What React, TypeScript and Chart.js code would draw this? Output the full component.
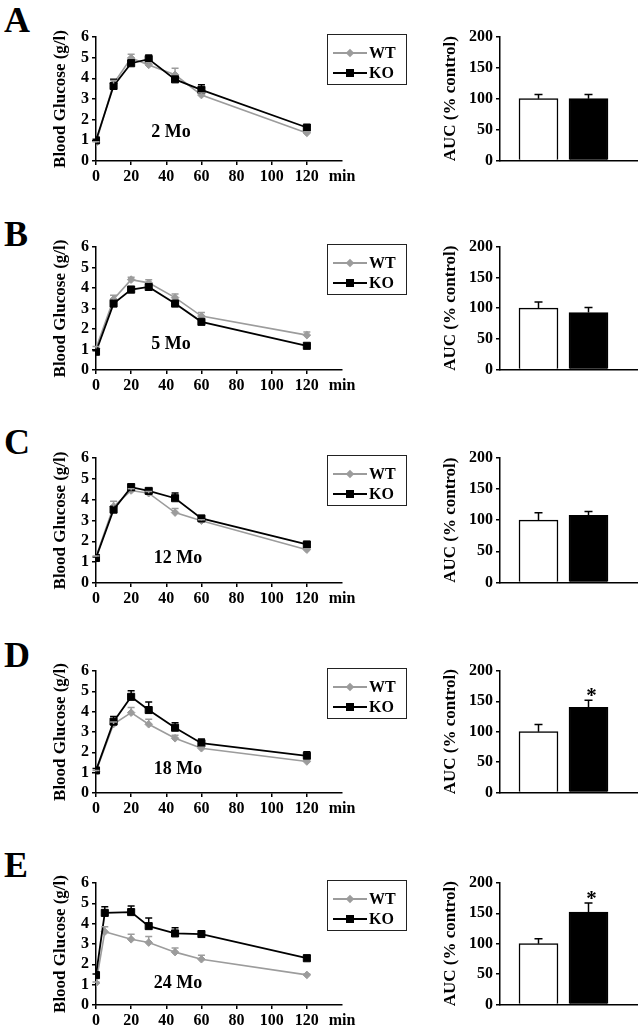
import React, { useEffect, useRef } from 'react';
import { Chart, registerables } from 'chart.js';

Chart.register(...registerables);

// ---------------- data ----------------
const TIMES_MIN = [0, 10, 20, 30, 45, 60, 120];
const TIMES_MIN_24MO = [0, 5, 20, 30, 45, 60, 120];
const X_TICKS = [0, 20, 40, 60, 80, 100, 120, 140];
const X_UNIT = 'min';
const X_UNIT_AT = 140;
const Y_TICKS_GLUCOSE = [0, 1, 2, 3, 4, 5, 6];
const Y_TICKS_AUC = [0, 50, 100, 150, 200];
const GROUPS = ['WT', 'KO'];
const PANEL_LETTERS = ['A', 'B', 'C', 'D', 'E'];
const AGES = ['2 Mo', '5 Mo', '12 Mo', '18 Mo', '24 Mo'];

const WT_2MO = [0.88, 3.75, 4.98, 4.65, 4.17, 3.19, 1.36];
const WT_2MO_SEM = [0.05, 0.15, 0.18, 0.1, 0.32, 0.1, 0.05];
const KO_2MO = [1.0, 3.63, 4.73, 4.93, 3.95, 3.44, 1.62];
const KO_2MO_SEM = [0.05, 0.32, 0.15, 0.2, 0.1, 0.25, 0.05];

const WT_5MO = [1.05, 3.45, 4.41, 4.25, 3.53, 2.63, 1.7];
const WT_5MO_SEM = [0.1, 0.2, 0.12, 0.15, 0.18, 0.18, 0.15];
const KO_5MO = [0.89, 3.24, 3.92, 4.05, 3.24, 2.35, 1.18];
const KO_5MO_SEM = [0.05, 0.1, 0.15, 0.12, 0.08, 0.08, 0.05];

const WT_12MO = [1.25, 3.67, 4.44, 4.31, 3.38, 2.99, 1.6];
const WT_12MO_SEM = [0.05, 0.25, 0.08, 0.08, 0.2, 0.05, 0.05];
const KO_12MO = [1.2, 3.52, 4.6, 4.42, 4.07, 3.1, 1.85];
const KO_12MO_SEM = [0.05, 0.1, 0.15, 0.1, 0.25, 0.1, 0.1];

const WT_18MO = [1.06, 3.39, 3.95, 3.38, 2.69, 2.2, 1.55];
const WT_18MO_SEM = [0.05, 0.1, 0.25, 0.25, 0.15, 0.05, 0.05];
const KO_18MO = [1.11, 3.51, 4.73, 4.08, 3.21, 2.45, 1.83];
const KO_18MO_SEM = [0.1, 0.25, 0.3, 0.4, 0.25, 0.2, 0.2];

const WT_24MO = [1.08, 3.6, 3.23, 3.07, 2.6, 2.25, 1.48];
const WT_24MO_SEM = [0.05, 0.25, 0.25, 0.3, 0.2, 0.2, 0.05];
const KO_24MO = [1.47, 4.53, 4.57, 3.88, 3.52, 3.49, 2.3];
const KO_24MO_SEM = [0.05, 0.3, 0.3, 0.4, 0.28, 0.15, 0.15];

const AUC_2MO = [100, 100];
const AUC_2MO_SEM = [7, 7];
const AUC_5MO = [100, 93];
const AUC_5MO_SEM = [10, 8];
const AUC_12MO = [100, 108];
const AUC_12MO_SEM = [12, 6];
const AUC_18MO = [100, 140];
const AUC_18MO_SEM = [12, 12];
const AUC_24MO = [100, 152];
const AUC_24MO_SEM = [8, 15];
const SIG_NONE = ['', ''];
const SIG_KO = ['', '*'];

const PANEL_DATA = [
  { times: TIMES_MIN, wt: WT_2MO, wtSem: WT_2MO_SEM, ko: KO_2MO, koSem: KO_2MO_SEM, auc: AUC_2MO, aucSem: AUC_2MO_SEM, sig: SIG_NONE },
  { times: TIMES_MIN, wt: WT_5MO, wtSem: WT_5MO_SEM, ko: KO_5MO, koSem: KO_5MO_SEM, auc: AUC_5MO, aucSem: AUC_5MO_SEM, sig: SIG_NONE },
  { times: TIMES_MIN, wt: WT_12MO, wtSem: WT_12MO_SEM, ko: KO_12MO, koSem: KO_12MO_SEM, auc: AUC_12MO, aucSem: AUC_12MO_SEM, sig: SIG_NONE },
  { times: TIMES_MIN, wt: WT_18MO, wtSem: WT_18MO_SEM, ko: KO_18MO, koSem: KO_18MO_SEM, auc: AUC_18MO, aucSem: AUC_18MO_SEM, sig: SIG_KO },
  { times: TIMES_MIN_24MO, wt: WT_24MO, wtSem: WT_24MO_SEM, ko: KO_24MO, koSem: KO_24MO_SEM, auc: AUC_24MO, aucSem: AUC_24MO_SEM, sig: SIG_KO },
];

// ---------------- layout / style ----------------
const ROW_TOPS = [37, 247, 458, 671, 883];
const ROW_BOTTOMS = [161, 370, 583, 793, 1005];
const LETTER_CAP_TOPS = [8, 222, 430, 643, 853];
const AGE_LABEL_POS = [[171, 131], [171, 343], [178, 557], [178, 768], [178, 982]];

const SERIF = '"Liberation Serif", "Times New Roman", Times, serif';
const GRAY = '#9c9c9c';
const BLACK = '#000';

const errorBarPlugin = {
  id: 'errorBarsCustom',
  afterDatasetsDraw(chart: any) {
    const ctx = chart.ctx;
    const yScale = chart.scales.y;
    chart.data.datasets.forEach((ds: any, di: number) => {
      if (!ds.errors) return;
      const meta = chart.getDatasetMeta(di);
      ctx.save();
      ctx.strokeStyle = ds.errorColor || BLACK;
      ctx.lineWidth = ds.errorWidth || 1.5;
      const cap = ds.errorCap || 3.5;
      meta.data.forEach((el: any, i: number) => {
        const raw = ds.data[i];
        const v = typeof raw === 'number' ? raw : raw.y;
        const yTop = yScale.getPixelForValue(v + ds.errors[i]);
        const x = el.x;
        const y0 = el.y;
        if (y0 - yTop > 0.5) {
          ctx.beginPath();
          ctx.moveTo(x, y0);
          ctx.lineTo(x, yTop);
          ctx.moveTo(x - cap, yTop);
          ctx.lineTo(x + cap, yTop);
          ctx.stroke();
        }
        if (ds.marks && ds.marks[i]) {
          ctx.fillStyle = BLACK;
          ctx.font = `bold 21px ${SERIF}`;
          ctx.textAlign = 'center';
          ctx.textBaseline = 'alphabetic';
          ctx.fillText(ds.marks[i], x + 3, yTop + 2);
        }
      });
      ctx.restore();
    });
  },
};

const tickFont = { family: SERIF, weight: 'bold' as const, size: 16 };
const titleFont = { family: SERIF, weight: 'bold' as const, size: 17 };

function Panel({ index }: { index: number }) {
  const lineRef = useRef<HTMLCanvasElement>(null);
  const barRef = useRef<HTMLCanvasElement>(null);
  const d = PANEL_DATA[index];
  const top = ROW_TOPS[index];
  const plotH = ROW_BOTTOMS[index] - ROW_TOPS[index];
  const PAD_TOP = 20;
  const LINE_X_H = 28;
  const BAR_X_H = 12;
  const lineH = PAD_TOP + plotH + LINE_X_H;
  const barH = PAD_TOP + plotH + BAR_X_H;

  useEffect(() => {
    const axisCommon = {
      border: { display: true, color: BLACK, width: 1.5 },
    };
    const lineChart = new Chart(lineRef.current as HTMLCanvasElement, {
      type: 'line',
      data: {
        datasets: [
          {
            label: GROUPS[1],
            data: d.times.map((t, i) => ({ x: t, y: d.ko[i] })),
            borderColor: BLACK,
            backgroundColor: BLACK,
            borderWidth: 1.8,
            pointStyle: 'rect',
            pointRadius: 5,
            pointBorderWidth: 1,
            pointBackgroundColor: BLACK,
            pointBorderColor: BLACK,
            order: 0,
            errors: d.koSem,
            errorColor: BLACK,
            errorCap: 3.5,
          } as any,
          {
            label: GROUPS[0],
            data: d.times.map((t, i) => ({ x: t, y: d.wt[i] })),
            borderColor: GRAY,
            backgroundColor: GRAY,
            borderWidth: 1.6,
            pointStyle: 'rectRot',
            pointRadius: 3.8,
            pointBorderWidth: 1,
            pointBackgroundColor: GRAY,
            pointBorderColor: GRAY,
            order: 1,
            errors: d.wtSem,
            errorColor: GRAY,
            errorCap: 3.5,
          } as any,
        ],
      },
      options: {
        animation: false,
        responsive: false,
        maintainAspectRatio: false,
        devicePixelRatio: 1,
        layout: { padding: { left: 50, right: 20, top: PAD_TOP, bottom: 0 } },
        plugins: { legend: { display: false }, tooltip: { enabled: false } },
        scales: {
          x: {
            type: 'linear',
            min: X_TICKS[0],
            max: X_TICKS[X_TICKS.length - 1],
            offset: false,
            afterBuildTicks: (s: any) => {
              s.ticks = X_TICKS.map((v) => ({ value: v }));
            },
            afterFit: (s: any) => {
              s.height = LINE_X_H;
            },
            ticks: {
              callback: (v: any) => (v === X_UNIT_AT ? X_UNIT : String(v)),
              font: tickFont,
              color: BLACK,
              padding: 2,
              maxRotation: 0,
              autoSkip: false,
            },
            grid: {
              drawOnChartArea: false,
              drawTicks: true,
              tickLength: 4,
              lineWidth: 1.5,
              color: (c: any) => (c.tick && c.tick.value === X_UNIT_AT ? 'rgba(0,0,0,0)' : BLACK),
            },
            ...axisCommon,
          },
          y: {
            min: Y_TICKS_GLUCOSE[0],
            max: Y_TICKS_GLUCOSE[Y_TICKS_GLUCOSE.length - 1],
            afterBuildTicks: (s: any) => {
              s.ticks = Y_TICKS_GLUCOSE.map((v) => ({ value: v }));
            },
            afterFit: (s: any) => {
              s.width = 46;
            },
            ticks: { font: tickFont, color: BLACK, padding: 3, autoSkip: false },
            grid: { drawOnChartArea: false, drawTicks: true, tickLength: 4, lineWidth: 1.5, color: BLACK },
            title: {
              display: true,
              text: 'Blood Glucose (g/l)',
              font: titleFont,
              color: BLACK,
              padding: { top: 0, bottom: 0 },
            },
            ...axisCommon,
          },
        } as any,
      },
      plugins: [errorBarPlugin],
    });

    const barChart = new Chart(barRef.current as HTMLCanvasElement, {
      type: 'bar',
      data: {
        datasets: [
          {
            label: 'AUC',
            data: GROUPS.map((g, i) => ({ x: i + 1, y: d.auc[i] })),
            backgroundColor: ['#ffffff', BLACK],
            borderColor: BLACK,
            borderWidth: 1.5,
            borderSkipped: 'bottom',
            barThickness: 39,
            errors: d.aucSem,
            errorColor: BLACK,
            errorCap: 4,
            marks: d.sig,
          } as any,
        ],
      },
      options: {
        animation: false,
        responsive: false,
        maintainAspectRatio: false,
        devicePixelRatio: 1,
        layout: { padding: { left: 0, right: 4, top: PAD_TOP, bottom: 0 } },
        plugins: { legend: { display: false }, tooltip: { enabled: false } },
        scales: {
          x: {
            type: 'linear',
            min: 0.23,
            max: 2.97,
            offset: false,
            afterFit: (s: any) => {
              s.height = BAR_X_H;
            },
            ticks: { display: false },
            grid: { display: false, drawOnChartArea: false, drawTicks: false },
            ...axisCommon,
          },
          y: {
            min: Y_TICKS_AUC[0],
            max: Y_TICKS_AUC[Y_TICKS_AUC.length - 1],
            afterBuildTicks: (s: any) => {
              s.ticks = Y_TICKS_AUC.map((v) => ({ value: v }));
            },
            afterFit: (s: any) => {
              s.width = 60;
            },
            ticks: { font: tickFont, color: BLACK, padding: 3, autoSkip: false },
            grid: { drawOnChartArea: false, drawTicks: true, tickLength: 4, lineWidth: 1.5, color: BLACK },
            title: {
              display: true,
              text: 'AUC (% control)',
              font: titleFont,
              color: BLACK,
              padding: { top: 0, bottom: 0 },
            },
            ...axisCommon,
          },
        } as any,
      },
      plugins: [errorBarPlugin],
    });

    return () => {
      lineChart.destroy();
      barChart.destroy();
    };
  }, [index]);

  const [ax, ay] = AGE_LABEL_POS[index];
  return (
    <>
      <div
        style={{
          position: 'absolute',
          left: 4,
          top: LETTER_CAP_TOPS[index] - 6.3,
          fontFamily: SERIF,
          fontWeight: 'bold',
          fontSize: 36,
          lineHeight: 1,
        }}
      >
        {PANEL_LETTERS[index]}
      </div>
      <canvas
        ref={lineRef}
        width={362}
        height={lineH}
        style={{ position: 'absolute', left: 0, top: top - PAD_TOP, width: 362, height: lineH }}
      />
      <canvas
        ref={barRef}
        width={201}
        height={barH}
        style={{ position: 'absolute', left: 440, top: top - PAD_TOP, width: 201, height: barH }}
      />
      <div
        style={{
          position: 'absolute',
          left: ax,
          top: ay,
          transform: 'translate(-50%, -50%)',
          fontFamily: SERIF,
          fontWeight: 'bold',
          fontSize: 18,
          lineHeight: 1,
          whiteSpace: 'nowrap',
        }}
      >
        {AGES[index]}
      </div>
      <Legend top={top - 3} />
    </>
  );
}

function LegendRow({ y, color, diamond, label }: { y: number; color: string; diamond: boolean; label: string }) {
  return (
    <>
      <div style={{ position: 'absolute', left: 5, top: y - 0.75, width: 34, height: 1.5, background: color }} />
      <div
        style={{
          position: 'absolute',
          left: diamond ? 22 - 3 : 22 - 4,
          top: diamond ? y - 3 : y - 4,
          width: diamond ? 6 : 8,
          height: diamond ? 6 : 8,
          background: color,
          transform: diamond ? 'rotate(45deg)' : undefined,
        }}
      />
      <div
        style={{
          position: 'absolute',
          left: 41,
          top: y - 8,
          fontFamily: SERIF,
          fontWeight: 'bold',
          fontSize: 16,
          lineHeight: '16px',
          whiteSpace: 'nowrap',
        }}
      >
        {label}
      </div>
    </>
  );
}

function Legend({ top }: { top: number }) {
  return (
    <div
      style={{
        position: 'absolute',
        left: 327,
        top,
        width: 80,
        height: 51,
        border: '1px solid #222',
        boxSizing: 'border-box',
      }}
    >
      <LegendRow y={18} color={GRAY} diamond={true} label={GROUPS[0]} />
      <LegendRow y={38} color={BLACK} diamond={false} label={GROUPS[1]} />
    </div>
  );
}

export default function App() {
  return (
    <div
      style={{
        position: 'absolute',
        left: 0,
        top: 0,
        width: 641,
        height: 1031,
        background: '#fff',
        overflow: 'hidden',
      }}
    >
      {PANEL_LETTERS.map((_, i) => (
        <Panel key={i} index={i} />
      ))}
    </div>
  );
}
